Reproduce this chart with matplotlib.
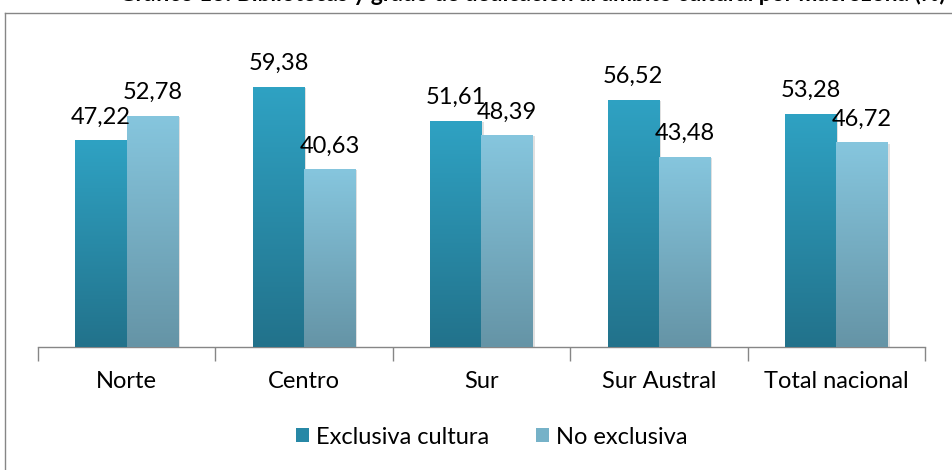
import numpy as np
import matplotlib
matplotlib.use("Agg")
import matplotlib.pyplot as plt
from matplotlib.colors import LinearSegmentedColormap
from matplotlib.lines import Line2D
from matplotlib.patches import Rectangle

categories = ["Norte", "Centro", "Sur", "Sur Austral", "Total nacional"]
exclusiva = [47.22, 59.38, 51.61, 56.52, 53.28]
no_exclusiva = [52.78, 40.63, 48.39, 43.48, 46.72]
labels_excl = ["47,22", "59,38", "51,61", "56,52", "53,28"]
labels_noex = ["52,78", "40,63", "48,39", "43,48", "46,72"]
series_names = ["Exclusiva cultura", "No exclusiva"]
title = "Gráfico 13: Bibliotecas y grado de dedicación al ámbito cultural por macrozona (%)"

plt.rcParams['font.family'] = ['Lato', 'DejaVu Sans']
FS = 17

fig = plt.figure(figsize=(9.53, 4.70), dpi=100)
ax = fig.add_axes([38/953, 1-347/470, (925-38)/953, (347-40.5)/470])

n = len(categories)
x = np.arange(n)
w = 52/180

cm1 = LinearSegmentedColormap.from_list("c1", ["#22728b", "#2fa2c3"])
cm2 = LinearSegmentedColormap.from_list("c2", ["#6594a6", "#86c6de"])
grad = np.linspace(0, 1, 256).reshape(-1, 1)

def grad_bars(xs, vals, cmap, face):
    bars = ax.bar(xs, vals, width=w, color=face, zorder=2, linewidth=0)
    for b in bars:
        x0, y0 = b.get_x(), b.get_y()
        bw, bh = b.get_width(), b.get_height()
        ax.add_patch(Rectangle((x0 + 0.012, y0), bw, bh - 0.3, facecolor="#000000",
                               alpha=0.12, zorder=1.5, linewidth=0))
        im = ax.imshow(grad, extent=[x0, x0 + bw, y0, y0 + bh], origin="lower",
                       cmap=cmap, aspect="auto", zorder=3)
        im.set_clip_path(b)
    return bars

grad_bars(x - w/2, exclusiva, cm1, "#2a8fae")
grad_bars(x + w/2, no_exclusiva, cm2, "#78b0c4")

for xi, v, lab in zip(x, exclusiva, labels_excl):
    ax.text(xi - w/2, v + 5.3, lab, ha="center", va="center", fontsize=FS, color="#000000", zorder=5)
for xi, v, lab in zip(x, no_exclusiva, labels_noex):
    ax.text(xi + w/2, v + 5.3, lab, ha="center", va="center", fontsize=FS, color="#000000", zorder=5)

ax.set_xlim(-0.5, n - 0.5 + (925-38)/180 - n)
ax.set_ylim(0, 70)
ax.set_yticks([])
for s in ["top", "right", "left"]:
    ax.spines[s].set_visible(False)
ax.spines["bottom"].set_color("#868686")
ax.spines["bottom"].set_linewidth(1)
ax.set_xticks(x)
ax.set_xticklabels(categories, fontsize=FS)
ax.tick_params(axis="x", length=0, pad=17)
ax.set_xticks(np.arange(n + 1) - 0.5, minor=True)
ax.tick_params(axis="x", which="minor", length=10, color="#868686", width=1)
ax.set_facecolor("none")

# frame
fig.add_artist(Line2D([5/953, 5/953], [0, 1-13/470], transform=fig.transFigure, color="#868686", lw=1))
fig.add_artist(Line2D([5/953, 1], [1-13/470, 1-13/470], transform=fig.transFigure, color="#868686", lw=1))

fig.text(532/953, 1 - 5/470, title, ha="center", va="bottom", fontsize=16.4,
         fontweight="bold", color="#000000")

# legend
h1 = Rectangle((0, 0), 1, 1, facecolor="#2788a6", edgecolor="none")
h2 = Rectangle((0, 0), 1, 1, facecolor="#76b2c8", edgecolor="none")
fig.legend([h1, h2], series_names, loc="center", bbox_to_anchor=(492/953, 1 - 437/470),
           ncol=2, frameon=False, fontsize=FS, handlelength=0.55, handleheight=0.55,
           handletextpad=0.3, columnspacing=2.0)

fig.savefig("out.png", dpi=100)
